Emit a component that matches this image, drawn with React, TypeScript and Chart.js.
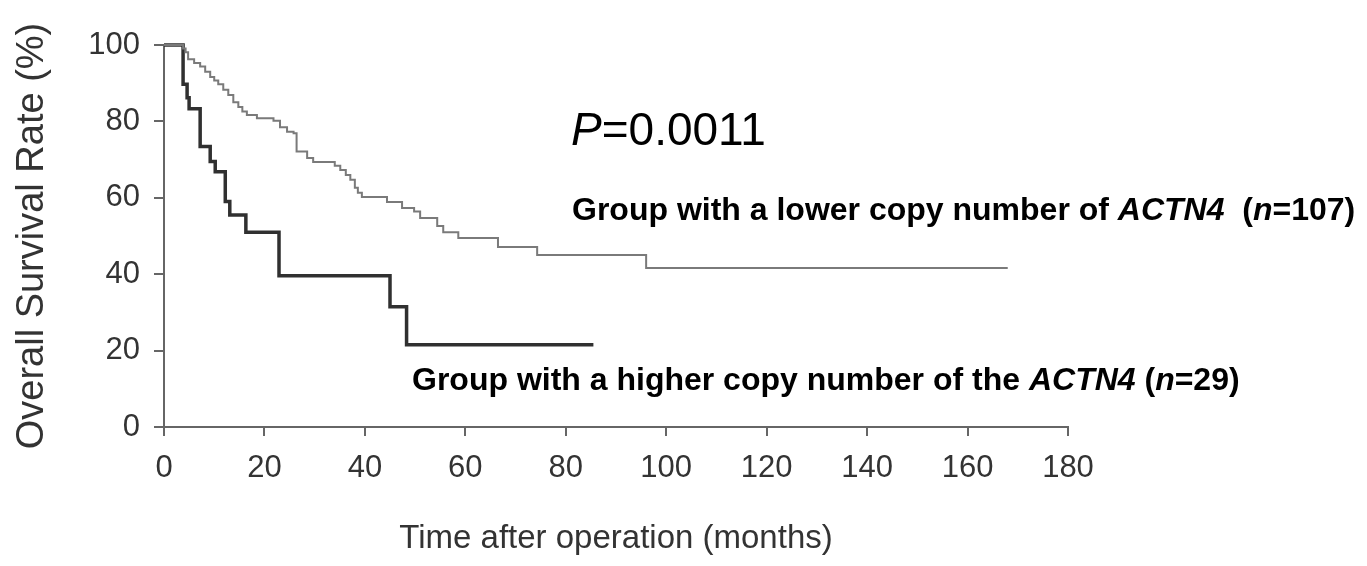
import React, { useEffect, useRef } from "react";
import { Chart, registerables } from "chart.js";

Chart.register(...registerables);

// Group with a lower copy number of ACTN4 (n=107)
const lowerTimes = [0, 3.8, 4.3, 4.8, 6.0, 7.2, 8.2, 9.2, 10.0, 10.8, 11.8, 12.8, 13.8, 14.8, 15.6, 16.5, 18.5, 21.8, 23.1, 24.5, 25.8, 26.4, 28.5, 29.7, 34.0, 35.1, 36.2, 37.1, 38.0, 38.6, 39.4, 44.4, 47.4, 49.8, 51.0, 54.4, 55.6, 58.6, 66.5, 74.3, 96.0, 168.0];
const lowerSurv = [100, 99.1, 98.1, 96.3, 95.3, 94.4, 93.0, 91.6, 90.7, 89.7, 88.3, 86.9, 85.0, 83.8, 82.6, 81.7, 80.8, 80.2, 78.5, 77.3, 76.9, 72.1, 70.4, 69.4, 68.4, 67.3, 66.0, 64.7, 62.6, 61.3, 60.2, 58.9, 57.3, 56.4, 54.7, 52.6, 51.0, 49.5, 47.1, 45.0, 41.6, 41.6];

// Group with a higher copy number of ACTN4 (n=29)
const higherTimes = [0, 3.8, 4.6, 5.0, 7.2, 9.2, 10.2, 12.2, 13.1, 16.3, 22.9, 45.0, 48.3, 85.5];
const higherSurv = [100, 89.7, 86.2, 83.3, 73.4, 69.5, 66.8, 59.0, 55.5, 51.0, 39.6, 31.5, 21.5, 21.5];

const xTicks = [0, 20, 40, 60, 80, 100, 120, 140, 160, 180];
const yTicks = [0, 20, 40, 60, 80, 100];

const pLabel = [
  { text: "P", style: "italic" },
  { text: "=0.0011", style: "normal" },
];
const lowerLabel = [
  { text: "Group with a lower copy number of ", style: "bold" },
  { text: "ACTN4", style: "italic bold" },
  { text: "  (", style: "bold" },
  { text: "n", style: "italic bold" },
  { text: "=107)", style: "bold" },
];
const higherLabel = [
  { text: "Group with a higher copy number of the ", style: "bold" },
  { text: "ACTN4", style: "italic bold" },
  { text: " (", style: "bold" },
  { text: "n", style: "italic bold" },
  { text: "=29)", style: "bold" },
];

const FONT = "'Liberation Sans', Arial, Helvetica, sans-serif";

function drawRich(ctx: CanvasRenderingContext2D, parts: { text: string; style: string }[], x: number, y: number, size: number) {
  let cx = x;
  for (const p of parts) {
    ctx.font = `${p.style} ${size}px ${FONT}`;
    ctx.fillText(p.text, cx, y);
    cx += ctx.measureText(p.text).width;
  }
}

export default function App() {
  const ref = useRef<HTMLCanvasElement | null>(null);

  useEffect(() => {
    if (!ref.current) return;
    const labelsPlugin = {
      id: "kmLabels",
      afterDraw(chart: any) {
        const ctx = chart.ctx as CanvasRenderingContext2D;
        ctx.save();
        ctx.fillStyle = "#000";
        ctx.textBaseline = "alphabetic";
        ctx.textAlign = "left";
        drawRich(ctx, pLabel, 571, 145, 46);
        drawRich(ctx, lowerLabel, 572, 220, 32);
        drawRich(ctx, higherLabel, 412, 390, 32);
        ctx.restore();
      },
    };

    const chart = new Chart(ref.current, {
      type: "line",
      data: {
        datasets: [
          {
            label: "lower",
            data: lowerTimes.map((t, i) => ({ x: t, y: lowerSurv[i] })),
            borderColor: "#7a7a7a",
            borderWidth: 2,
            stepped: "before",
            pointRadius: 0,
            fill: false,
            clip: 8,
          },
          {
            label: "higher",
            data: higherTimes.map((t, i) => ({ x: t, y: higherSurv[i] })),
            borderColor: "#303030",
            borderWidth: 3.5,
            stepped: "before",
            pointRadius: 0,
            fill: false,
            clip: 8,
          },
        ],
      },
      options: {
        responsive: false,
        animation: false,
        devicePixelRatio: 1,
        layout: { padding: { top: 45, right: 299, bottom: 0, left: 0 } },
        plugins: {
          legend: { display: false },
          tooltip: { enabled: false },
        },
        scales: {
          x: {
            type: "linear",
            min: 0,
            max: 180,
            afterBuildTicks: (scale: any) => {
              scale.ticks = xTicks.map((v) => ({ value: v }));
            },
            afterFit: (scale: any) => {
              scale.height = 139;
            },
            ticks: {
              color: "#333",
              font: { family: FONT, size: 31 },
              padding: 14,
              maxRotation: 0,
              autoSkip: false,
            },
            grid: {
              drawOnChartArea: false,
              drawTicks: true,
              tickLength: 9,
              color: "#666",
              lineWidth: 2,
            },
            border: { display: true, color: "#666", width: 2 },
            title: {
              display: true,
              text: "Time after operation (months)",
              color: "#333",
              font: { family: FONT, size: 33 },
              padding: { top: 0, bottom: 7 },
            },
          },
          y: {
            type: "linear",
            min: 0,
            max: 100,
            afterBuildTicks: (scale: any) => {
              scale.ticks = yTicks.map((v) => ({ value: v }));
            },
            afterFit: (scale: any) => {
              scale.width = 164;
            },
            ticks: {
              color: "#333",
              font: { family: FONT, size: 31 },
              padding: 14,
              autoSkip: false,
            },
            grid: {
              drawOnChartArea: false,
              drawTicks: true,
              tickLength: 10,
              color: "#666",
              lineWidth: 2,
            },
            border: { display: true, color: "#666", width: 2 },
            title: {
              display: true,
              text: "Overall Survival Rate (%)",
              color: "#333",
              font: { family: FONT, size: 38 },
              padding: { top: 10, bottom: 0 },
            },
          },
        },
      },
      plugins: [labelsPlugin],
    } as any);

    return () => chart.destroy();
  }, []);

  return (
    <div style={{ position: "fixed", left: 0, top: 0, width: 1367, height: 566, background: "#fff" }}>
      <canvas ref={ref} width={1367} height={566} style={{ display: "block", width: 1367, height: 566 }} />
    </div>
  );
}
